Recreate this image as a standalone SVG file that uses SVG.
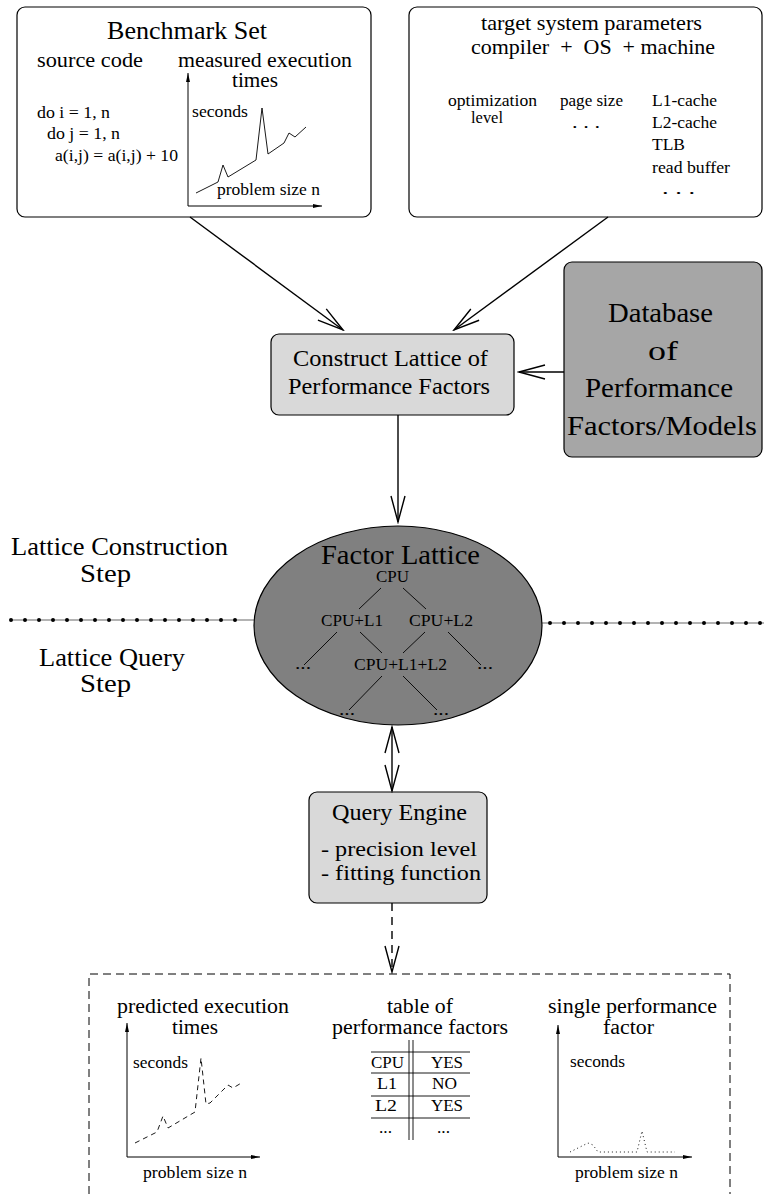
<svg xmlns="http://www.w3.org/2000/svg" width="764" height="1194" viewBox="0 0 764 1194">
<defs>
<style>
text{font-family:"Liberation Serif","Times New Roman",serif;fill:#000}
.box{fill:#fff;stroke:#000;stroke-width:1.2}
.lg{fill:#d9d9d9;stroke:#000;stroke-width:1.2}
.dg{fill:#a6a6a6;stroke:#000;stroke-width:1.2}
.conn{fill:none;stroke:#000;stroke-width:1.4}
.ax{fill:none;stroke:#000;stroke-width:1}
.thin{fill:none;stroke:#000;stroke-width:0.9}
.dots{fill:none;stroke:#000;stroke-width:4;stroke-linecap:round;stroke-dasharray:0 14}
.dline{fill:none;stroke:#000;stroke-width:0.6}
</style>
<marker id="ah" viewBox="-2 -9 30 18" markerWidth="30" markerHeight="18" refX="26" refY="0" markerUnits="userSpaceOnUse" orient="auto-start-reverse">
<path d="M0,-7 L26,0 L0,7" fill="none" stroke="#000" stroke-width="1.4"/>
</marker>
<marker id="sa" viewBox="0 -3 9 6" markerWidth="9" markerHeight="6" refX="9" refY="0" markerUnits="userSpaceOnUse" orient="auto">
<path d="M0,-2 L9,0 L0,2 z" fill="#000"/>
</marker>
</defs>

<g id="benchmark">
<rect class="box" x="17" y="7" width="354" height="210" rx="8"/>
<text x="107" y="39" font-size="25" textLength="160" lengthAdjust="spacingAndGlyphs">Benchmark Set</text>
<text x="37" y="67" font-size="20" textLength="106" lengthAdjust="spacingAndGlyphs">source code</text>
<text x="178" y="67" font-size="20" textLength="174" lengthAdjust="spacingAndGlyphs">measured execution</text>
<text x="232" y="87" font-size="20" textLength="46" lengthAdjust="spacingAndGlyphs">times</text>
<text x="37" y="118" font-size="17" textLength="73" lengthAdjust="spacingAndGlyphs">do i = 1, n</text>
<text x="47" y="139" font-size="17" textLength="73" lengthAdjust="spacingAndGlyphs">do j = 1, n</text>
<text x="55" y="161" font-size="17" textLength="123" lengthAdjust="spacingAndGlyphs">a(i,j) = a(i,j) + 10</text>
<line class="ax" x1="188" y1="206" x2="188" y2="73" marker-end="url(#sa)"/>
<line class="ax" x1="188" y1="206" x2="322" y2="206" marker-end="url(#sa)"/>
<polyline class="thin" points="196,193 218,182 223,165 228,177 256,160 262,108 268,154 284,143 289,133 295,137 306,127"/>
<text x="192" y="117" font-size="17" textLength="56" lengthAdjust="spacingAndGlyphs">seconds</text>
<text x="217" y="195" font-size="17" textLength="103" lengthAdjust="spacingAndGlyphs">problem size n</text>
</g>

<g id="target">
<rect class="box" x="409" y="7" width="353" height="210" rx="8"/>
<text x="481" y="30" font-size="21" textLength="221" lengthAdjust="spacingAndGlyphs">target system parameters</text>
<text x="471" y="54" font-size="21" textLength="244" lengthAdjust="spacingAndGlyphs" xml:space="preserve">compiler  +  OS  + machine</text>
<text x="448" y="106" font-size="17" textLength="89" lengthAdjust="spacingAndGlyphs">optimization</text>
<text x="471" y="123" font-size="17" textLength="32" lengthAdjust="spacingAndGlyphs">level</text>
<text x="560" y="106" font-size="17" textLength="63" lengthAdjust="spacingAndGlyphs">page size</text>
<text x="572" y="128" font-size="17" textLength="28" lengthAdjust="spacingAndGlyphs">. . .</text>
<text x="652" y="106" font-size="17" textLength="65" lengthAdjust="spacingAndGlyphs">L1-cache</text>
<text x="652" y="128" font-size="17" textLength="65" lengthAdjust="spacingAndGlyphs">L2-cache</text>
<text x="652" y="150" font-size="17" textLength="33" lengthAdjust="spacingAndGlyphs">TLB</text>
<text x="652" y="173" font-size="17" textLength="78" lengthAdjust="spacingAndGlyphs">read buffer</text>
<text x="662" y="194" font-size="17" textLength="33" lengthAdjust="spacingAndGlyphs">. . .</text>
</g>

<g id="construct">
<rect class="lg" x="271" y="334" width="243" height="81" rx="8"/>
<text x="293" y="366" font-size="23" textLength="195" lengthAdjust="spacingAndGlyphs">Construct Lattice of</text>
<text x="288" y="394" font-size="23" textLength="202" lengthAdjust="spacingAndGlyphs">Performance Factors</text>
</g>

<g id="database">
<rect class="dg" x="564" y="262" width="198" height="195" rx="8"/>
<text x="608" y="322" font-size="27" textLength="105" lengthAdjust="spacingAndGlyphs">Database</text>
<text x="648" y="360" font-size="27" textLength="30" lengthAdjust="spacingAndGlyphs">of</text>
<text x="585" y="397" font-size="27" textLength="148" lengthAdjust="spacingAndGlyphs">Performance</text>
<text x="567" y="435" font-size="27" textLength="190" lengthAdjust="spacingAndGlyphs">Factors/Models</text>
</g>

<g id="lattice">
<ellipse cx="398" cy="625.5" rx="144" ry="99.5" fill="#808080" stroke="#000" stroke-width="1.2"/>
<text x="321" y="564" font-size="27" textLength="159" lengthAdjust="spacingAndGlyphs">Factor Lattice</text>
<text x="376" y="582" font-size="16" textLength="33" lengthAdjust="spacingAndGlyphs">CPU</text>
<text x="321" y="626" font-size="16" textLength="62" lengthAdjust="spacingAndGlyphs">CPU+L1</text>
<text x="409" y="626" font-size="16" textLength="64" lengthAdjust="spacingAndGlyphs">CPU+L2</text>
<text x="354" y="670" font-size="16" textLength="93" lengthAdjust="spacingAndGlyphs">CPU+L1+L2</text>
<text x="295" y="669" font-size="16" textLength="16" lengthAdjust="spacingAndGlyphs">...</text>
<text x="477" y="669" font-size="16" textLength="16" lengthAdjust="spacingAndGlyphs">...</text>
<text x="339" y="715" font-size="16" textLength="16" lengthAdjust="spacingAndGlyphs">...</text>
<text x="433" y="715" font-size="16" textLength="16" lengthAdjust="spacingAndGlyphs">...</text>
<g class="thin">
<line x1="381" y1="588" x2="359" y2="609"/>
<line x1="403" y1="588" x2="426" y2="609"/>
<line x1="337" y1="632" x2="304" y2="665"/>
<line x1="360" y1="632" x2="382" y2="653"/>
<line x1="425" y1="632" x2="403" y2="653"/>
<line x1="448" y1="632" x2="481" y2="665"/>
<line x1="382" y1="676" x2="349" y2="710"/>
<line x1="403" y1="676" x2="437" y2="710"/>
</g>
</g>

<g id="labels">
<text x="11" y="555" font-size="25" textLength="217" lengthAdjust="spacingAndGlyphs">Lattice Construction</text>
<text x="80" y="582" font-size="25" textLength="51" lengthAdjust="spacingAndGlyphs">Step</text>
<text x="39" y="666" font-size="25" textLength="146" lengthAdjust="spacingAndGlyphs">Lattice Query</text>
<text x="80" y="692" font-size="25" textLength="51" lengthAdjust="spacingAndGlyphs">Step</text>
<line class="dline" x1="11" y1="620" x2="254" y2="620"/>
<line class="dots" x1="11" y1="620" x2="245" y2="620"/>
<line class="dline" x1="542" y1="623" x2="764" y2="623"/>
<line class="dots" x1="550" y1="623" x2="764" y2="623"/>
</g>

<g id="query">
<rect class="lg" x="309" y="792" width="178" height="111" rx="8"/>
<text x="332" y="820" font-size="23" textLength="135" lengthAdjust="spacingAndGlyphs">Query Engine</text>
<text x="321" y="856" font-size="20" textLength="156" lengthAdjust="spacingAndGlyphs">- precision level</text>
<text x="321" y="880" font-size="20" textLength="160" lengthAdjust="spacingAndGlyphs">- fitting function</text>
</g>

<g id="results">
<path d="M89,1194 L89,974 L730,974 L730,1194" fill="none" stroke="#000" stroke-width="1" stroke-dasharray="8 5"/>
<text x="117" y="1013" font-size="20" textLength="172" lengthAdjust="spacingAndGlyphs">predicted execution</text>
<text x="172" y="1034" font-size="20" textLength="46" lengthAdjust="spacingAndGlyphs">times</text>
<line class="ax" x1="127" y1="1157" x2="127" y2="1023" marker-end="url(#sa)"/>
<line class="ax" x1="127" y1="1157" x2="260" y2="1157" marker-end="url(#sa)"/>
<polyline class="thin" stroke-dasharray="5 4" points="135,1143 157,1132 163,1116 168,1128 195,1112 201,1058 206,1104 210,1103 228,1085 233,1088 243,1082"/>
<text x="133" y="1068" font-size="17" textLength="55" lengthAdjust="spacingAndGlyphs">seconds</text>
<text x="143" y="1178" font-size="17" textLength="104" lengthAdjust="spacingAndGlyphs">problem size n</text>

<text x="387" y="1013" font-size="20" textLength="66" lengthAdjust="spacingAndGlyphs">table of</text>
<text x="332" y="1034" font-size="20" textLength="176" lengthAdjust="spacingAndGlyphs">performance factors</text>
<g class="thin">
<line x1="371" y1="1052" x2="470" y2="1052"/>
<line x1="371" y1="1073" x2="470" y2="1073"/>
<line x1="371" y1="1096" x2="470" y2="1096"/>
<line x1="371" y1="1118" x2="470" y2="1118"/>
<line x1="409" y1="1040" x2="409" y2="1140"/>
<line x1="413" y1="1040" x2="413" y2="1140"/>
</g>
<text x="371" y="1068" font-size="16" textLength="33" lengthAdjust="spacingAndGlyphs">CPU</text>
<text x="431" y="1068" font-size="16" textLength="32" lengthAdjust="spacingAndGlyphs">YES</text>
<text x="377" y="1089" font-size="16" textLength="20" lengthAdjust="spacingAndGlyphs">L1</text>
<text x="432" y="1089" font-size="16" textLength="25" lengthAdjust="spacingAndGlyphs">NO</text>
<text x="375" y="1111" font-size="16" textLength="22" lengthAdjust="spacingAndGlyphs">L2</text>
<text x="431" y="1111" font-size="16" textLength="32" lengthAdjust="spacingAndGlyphs">YES</text>
<text x="379" y="1133" font-size="16" textLength="13" lengthAdjust="spacingAndGlyphs">...</text>
<text x="437" y="1133" font-size="16" textLength="13" lengthAdjust="spacingAndGlyphs">...</text>

<text x="548" y="1013" font-size="20" textLength="169" lengthAdjust="spacingAndGlyphs">single performance</text>
<text x="603" y="1034" font-size="20" textLength="51" lengthAdjust="spacingAndGlyphs">factor</text>
<line class="ax" x1="558" y1="1157" x2="558" y2="1025" marker-end="url(#sa)"/>
<line class="ax" x1="558" y1="1157" x2="692" y2="1157" marker-end="url(#sa)"/>
<polyline class="thin" stroke-dasharray="1 3" points="570,1152 588,1143 593,1145 598,1152 637,1152 642,1131 647,1152 675,1152"/>
<text x="570" y="1067" font-size="17" textLength="55" lengthAdjust="spacingAndGlyphs">seconds</text>
<text x="575" y="1178" font-size="17" textLength="103" lengthAdjust="spacingAndGlyphs">problem size n</text>
</g>

<g id="connectors">
<line class="conn" x1="190" y1="217" x2="343" y2="330" marker-end="url(#ah)"/>
<line class="conn" x1="608" y1="217" x2="454" y2="330" marker-end="url(#ah)"/>
<line class="conn" x1="564" y1="372" x2="519" y2="372" marker-end="url(#ah)"/>
<line class="conn" x1="398" y1="415" x2="398" y2="522" marker-end="url(#ah)"/>
<line class="conn" x1="392" y1="727" x2="392" y2="791" marker-start="url(#ah)" marker-end="url(#ah)"/>
<line class="conn" x1="392" y1="903" x2="392" y2="972" stroke-dasharray="8 6" marker-end="url(#ah)"/>
</g>
</svg>
